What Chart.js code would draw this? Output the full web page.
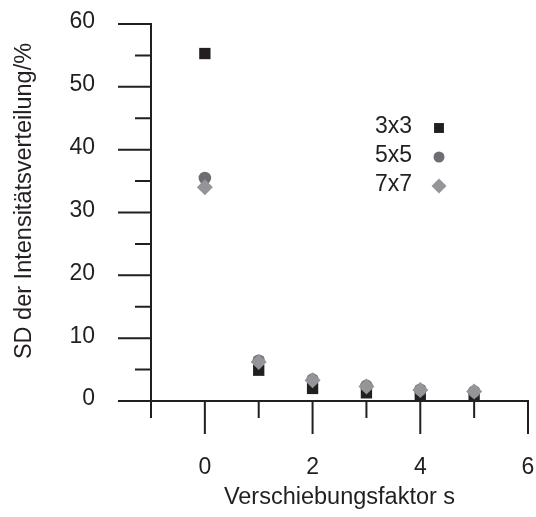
<!DOCTYPE html>
<html>
<head>
<meta charset="utf-8">
<script src="https://cdn.jsdelivr.net/npm/chart.js@4.4.1/dist/chart.umd.min.js"></script>
<style>
  html, body { margin: 0; padding: 0; background: #fff; }
  #chartContainer { width: 536px; height: 517px; position: relative; }
</style>
</head>
<body>
<div id="chartContainer"><canvas id="sdChart"></canvas></div>
<script>
// values
const shiftFactors = [0, 1, 2, 3, 4, 5];
const sd3x3 = [55.3, 4.9, 2.0, 1.3, 0.8, 0.5];
const sd5x5 = [35.5, 6.4, 3.4, 2.4, 1.8, 1.5];
const sd7x7 = [34.0, 6.2, 3.3, 2.3, 1.75, 1.5];
const seriesNames = ['3x3', '5x5', '7x7'];
const xTickLabels = [0, 2, 4, 6];
const yTickLabels = [0, 10, 20, 30, 40, 50, 60];
const xTickMarks = [-1, 0, 1, 2, 3, 4, 5, 6];
const yTickMarks = [0, 5, 10, 15, 20, 25, 30, 35, 40, 45, 50, 55, 60];
const xTitle = 'Verschiebungsfaktor s';
const yTitle = 'SD der Intensitätsverteilung/%';

const ink = '#231f20';
const fontFamily = '"Liberation Sans", Arial, sans-serif';

function toPoints(ys) {
    return shiftFactors.map((x, i) => ({ x: x, y: ys[i] }));
}

// tick marks: long on labelled values, short in between
const axisTicks = {
    id: 'axisTicks',
    afterDraw(chart) {
        const { ctx, scales: { x, y } } = chart;
        ctx.save();
        ctx.strokeStyle = ink;
        ctx.lineWidth = 2;
        ctx.beginPath();
        xTickMarks.forEach(v => {
            const px = x.getPixelForValue(v);
            const len = xTickLabels.includes(v) ? 33 : 17;
            ctx.moveTo(px, y.bottom);
            ctx.lineTo(px, y.bottom + len);
        });
        yTickMarks.forEach(v => {
            const py = y.getPixelForValue(v);
            const len = yTickLabels.includes(v) ? 33 : 16;
            ctx.moveTo(x.left, py);
            ctx.lineTo(x.left - len, py);
        });
        ctx.stroke();
        ctx.restore();
    }
};

// y title sits a bit above the middle of the axis in the original
const yAxisTitle = {
    id: 'yAxisTitle',
    afterDraw(chart) {
        const ctx = chart.ctx;
        ctx.save();
        ctx.translate(25, 201);
        ctx.rotate(-Math.PI / 2);
        ctx.font = '23.5px ' + fontFamily;
        ctx.fillStyle = ink;
        ctx.textAlign = 'center';
        ctx.textBaseline = 'middle';
        ctx.fillText(yTitle, 0, 0);
        ctx.restore();
    }
};

// legend inside the plot: name on the left, marker on the right
const innerLegend = {
    id: 'innerLegend',
    afterDraw(chart) {
        const ctx = chart.ctx;
        ctx.save();
        ctx.font = '23px ' + fontFamily;
        ctx.textBaseline = 'middle';
        chart.data.datasets.forEach((ds, i) => {
            const yPos = 127 + i * 29;
            ctx.fillStyle = ink;
            ctx.fillText(ds.label, 375, yPos);
            ctx.fillStyle = ds.backgroundColor;
            ctx.strokeStyle = ds.backgroundColor;
            Chart.helpers.drawPoint(ctx, {
                pointStyle: ds.pointStyle,
                radius: ds.legendRadius,
                borderWidth: 0,
                rotation: 0
            }, 439, yPos + 1);
        });
        ctx.restore();
    }
};

function createChart() {
    const ctx = document.getElementById('sdChart').getContext('2d');
    new Chart(ctx, {
        type: 'scatter',
        data: {
            datasets: [{
                label: seriesNames[0],
                data: toPoints(sd3x3),
                pointStyle: 'rect',
                pointRadius: 8,
                legendRadius: 7,
                backgroundColor: '#231f20',
                borderColor: '#231f20',
                borderWidth: 0,
                order: 2
            }, {
                label: seriesNames[1],
                data: toPoints(sd5x5),
                pointStyle: 'circle',
                pointRadius: 6.3,
                legendRadius: 5.5,
                backgroundColor: '#6d6e71',
                borderColor: '#6d6e71',
                borderWidth: 0,
                order: 1
            }, {
                label: seriesNames[2],
                data: toPoints(sd7x7),
                pointStyle: 'rectRot',
                pointRadius: 8,
                legendRadius: 7.5,
                backgroundColor: '#939598',
                borderColor: '#939598',
                borderWidth: 0,
                order: 0
            }]
        },
        options: {
            responsive: true,
            maintainAspectRatio: false,
            animation: false,
            layout: {
                padding: { top: 24, right: 8, left: 6, bottom: 0 }
            },
            scales: {
                x: {
                    type: 'linear',
                    min: -1,
                    max: 6,
                    afterFit: scale => {
                        scale.height = 116;
                        scale.paddingLeft = 0;
                        scale.paddingRight = 0;
                    },
                    grid: { display: false, drawTicks: false },
                    border: { display: true, color: ink, width: 2 },
                    ticks: {
                        stepSize: 1,
                        padding: 53,
                        color: ink,
                        font: { family: fontFamily, size: 23 },
                        maxRotation: 0,
                        autoSkip: false,
                        callback: v => xTickLabels.includes(v) ? String(v) : ''
                    },
                    title: {
                        display: true,
                        text: xTitle,
                        color: ink,
                        font: { family: fontFamily, size: 23.5 },
                        padding: { top: 0, bottom: 5 }
                    }
                },
                y: {
                    type: 'linear',
                    min: 0,
                    max: 60,
                    afterFit: scale => {
                        scale.width = 145;
                        scale.paddingTop = 0;
                        scale.paddingBottom = 0;
                    },
                    grid: { display: false, drawTicks: false },
                    border: { display: true, color: ink, width: 2 },
                    ticks: {
                        stepSize: 10,
                        padding: 56,
                        labelOffset: -2,
                        color: ink,
                        font: { family: fontFamily, size: 23 },
                        callback: v => yTickLabels.includes(v) ? String(v) : ''
                    },
                    title: { display: false }
                }
            },
            plugins: {
                legend: { display: false },
                tooltip: { enabled: false }
            }
        },
        plugins: [axisTicks, yAxisTitle, innerLegend]
    });
}

document.addEventListener('DOMContentLoaded', function() {
    createChart();
});
</script>
</body>
</html>
